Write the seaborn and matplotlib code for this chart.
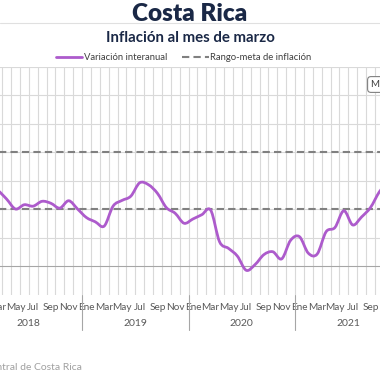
import numpy as np
import matplotlib.pyplot as plt
from matplotlib.path import Path
from matplotlib.patches import PathPatch
from matplotlib.lines import Line2D
import matplotlib.transforms as mtransforms
import seaborn as sns

sns.set_theme(style="white")
plt.rcParams['font.family'] = ['Lato', 'DejaVu Sans']

# data: interannual inflation, monthly from Jan 2018
years = ['2018', '2019', '2020', '2021', '2022']
month_names = ['Ene', 'Feb', 'Mar', 'Abr', 'May', 'Jun',
               'Jul', 'Ago', 'Sep', 'Oct', 'Nov', 'Dic']
inflation = [2.55, 2.75, 2.65, 2.35, 2.00, 2.15, 2.10, 2.27, 2.20, 2.03, 2.29, 2.00,
             1.70, 1.55, 1.40, 2.10, 2.30, 2.45, 2.92, 2.85, 2.55, 2.05, 1.85, 1.50,
             1.65, 1.80, 1.96, 0.85, 0.62, 0.35, -0.15, 0.05, 0.40, 0.50, 0.25, 0.90,
             1.03, 0.45, 0.42, 1.20, 1.35, 1.94, 1.44, 1.72, 2.05, 2.60, 3.00]
target_low = 2.0
target_high = 4.0
n_months = 51  # Ene 2018 .. Mar 2022

PURPLE = '#ad5bcc'
NAVY = '#1a2846'
DASH = '#808080'

fig = plt.figure(figsize=(3.8, 3.8), dpi=100)
W = H = 380.0
x0_px, month_px = -24.5, 8.875
top_px, bot_px = 66.5, 294.5
ax = fig.add_axes([x0_px / W, (H - bot_px) / H, n_months * month_px / W, (bot_px - top_px) / H])
ax.set_xlim(-0.5, n_months - 0.5)
ax.set_ylim(-1, 7)
for s in ax.spines.values():
    s.set_visible(False)

# grid
for k in range(n_months + 1):
    ax.axvline(k - 0.5, color='#d9d9d9', lw=0.8, zorder=1)
for v in range(0, 8):
    ax.axhline(v, color='#a6a6a6' if v == 0 else '#d9d9d9', lw=0.8, zorder=1)

# target range
for v in (target_low, target_high):
    ax.axhline(v, color=DASH, lw=1.5, dashes=(3.5, 2), zorder=2)

# smoothed series (Excel-like bezier through the points)
pts = np.column_stack([np.arange(len(inflation)), inflation])
verts = [pts[0]]
codes = [Path.MOVETO]
for i in range(len(pts) - 1):
    p0 = pts[max(i - 1, 0)]
    p1, p2 = pts[i], pts[i + 1]
    p3 = pts[min(i + 2, len(pts) - 1)]
    verts += [p1 + (p2 - p0) / 6, p2 - (p3 - p1) / 6, p2]
    codes += [Path.CURVE4] * 3
ax.add_patch(PathPatch(Path(verts, codes), facecolor='none', edgecolor=PURPLE,
                       lw=2.0, capstyle='round', joinstyle='round', zorder=3))

# month labels
ticks = [k for k in range(n_months) if k % 2 == 0]
ax.set_xticks(ticks)
ax.set_xticklabels([month_names[k % 12] for k in ticks], fontsize=7.2, color='#595959')
ax.tick_params(axis='x', length=0, pad=6.2)
ax.set_yticks([])

# year labels and separators
trans = mtransforms.blended_transform_factory(ax.transData, ax.transAxes)
for i, y in enumerate(years):
    first = i * 12
    last = min(first + 11, n_months - 1)
    ax.text((first + last) / 2, -0.125, y, transform=trans, ha='center', va='center',
            fontsize=7.5, color='#595959')
    if i > 0:
        ax.plot([first - 0.5, first - 0.5], [0, -0.157], transform=trans,
                color='#a6a6a6', lw=0.8, clip_on=False)

# titles
fig.text(0.5, 1 - 14 / H, 'Costa Rica', ha='center', va='center', fontsize=17.5,
         fontweight='heavy', color=NAVY)
fig.add_artist(Line2D([0, 1], [1 - 23 / H, 1 - 23 / H], color='#e0e0e0', lw=0.8))
fig.text(0.5, 1 - 37.5 / H, 'Inflación al mes de marzo', ha='center', va='center',
         fontsize=10.8, fontweight='bold', color=NAVY)

handles = [Line2D([], [], color=PURPLE, lw=2.0),
           Line2D([], [], color=DASH, lw=1.5, dashes=(3.5, 2))]
fig.legend(handles, ['Variación interanual', 'Rango-meta de inflación'],
           loc='center', bbox_to_anchor=(0.483, 1 - 58 / H), ncol=2, frameon=False,
           fontsize=6.8, handlelength=2.8, handletextpad=0.15, columnspacing=1.6,
           labelcolor='#404040')

# data label box (cut at the right edge)
fig.text(371 / W, 1 - 84.5 / H, 'Mar-2022: 5,79%', ha='left', va='center', fontsize=7,
         color='#404040',
         bbox=dict(boxstyle='round,pad=0.35', fc='white', ec='#808080', lw=0.8))

# source
fig.text(82 / W, 1 - 367 / H, 'Fuente: Banco Central de Costa Rica', ha='right',
         va='center', fontsize=7.5, color='#a0a0a0')

fig.savefig('out.png', dpi=100)
